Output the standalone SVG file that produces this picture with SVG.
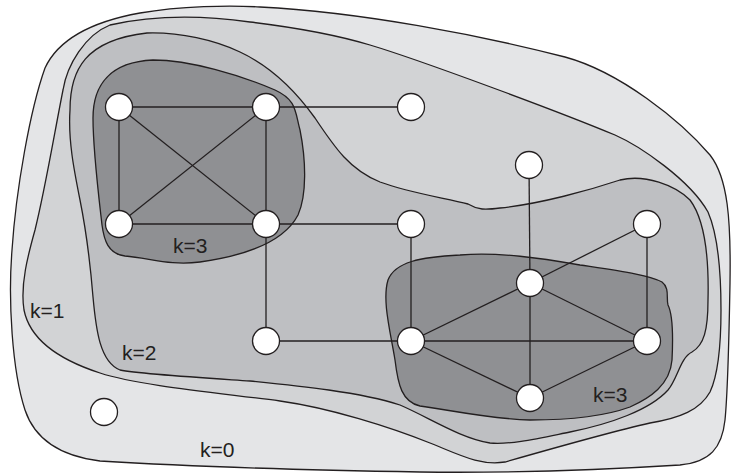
<svg xmlns="http://www.w3.org/2000/svg" width="733" height="474" viewBox="0 0 733 474">
  <style>
    .region { stroke: #231f20; stroke-width: 1.3; stroke-linejoin: round; }
    .k0 { fill: #e4e5e7; }
    .k1 { fill: #d2d3d5; }
    .k2 { fill: #bebfc2; }
    .k3 { fill: #8f9093; }
    .edge { stroke: #231f20; stroke-width: 1.3; fill: none; }
    .node circle { fill: #ffffff; stroke: #231f20; stroke-width: 1.3; }
    .label { font-family: "Liberation Sans", Arial, sans-serif; font-size: 21px; fill: #231f20; }
  </style>
  <rect width="733" height="474" fill="#ffffff"/>

  <!-- nested shells -->
  <g id="shells">
    <path id="shell-k0" class="region k0" d="M 140,13 C 180,6 230,5 260,7 C 360,12 480,35 565,57 C 620,72 680,120 710,155 C 728,178 731,220 730,283 C 729,340 728,390 725,420 C 722,448 710,462 680,465 C 600,470 500,473 420,472 C 300,470 180,466 100,461 C 60,456 35,440 25,410 C 12,370 8,300 12,250 C 16,190 30,110 45,68 C 58,40 90,22 140,13 Z"/>
    <path id="shell-k1" class="region k1" d="M 110,25 C 150,16 200,15 250,22 C 300,28 340,36 370,45 C 420,60 560,112 615,135 C 640,146 690,180 708,212 C 718,235 721,270 721,310 C 721,345 718,375 710,392 C 700,410 680,418 650,423 C 610,432 540,452 505,462 C 480,466 460,455 430,443 C 390,427 330,408 280,401 C 220,393 140,386 100,373 C 60,360 30,340 24,310 C 20,285 28,255 35,230 C 45,190 55,130 63,90 C 67,65 85,35 110,25 Z"/>
    <path id="shell-k2" class="region k2" d="M 147,33 C 180,32 215,40 240,52 C 270,66 295,90 315,118 C 335,148 350,170 380,182 C 410,193 445,198 468,204 C 478,210 485,210 500,208 C 540,204 590,190 620,180 C 645,174 675,185 690,200 C 705,220 709,260 708,300 C 708,330 704,345 692,352 C 680,358 678,378 668,390 C 650,410 610,424 570,432 C 540,438 510,445 490,443 C 460,438 430,418 400,405 C 360,392 300,386 250,381 C 190,377 140,374 120,370 C 100,362 96,330 93,297 C 90,260 86,230 80,200 C 74,170 68,140 70,110 C 70,70 85,40 147,33 Z"/>
    <path id="shell-k3-left" class="region k3" d="M 153,60 C 190,60 240,75 275,90 C 297,100 295,112 300,130 C 306,160 307,195 298,215 C 285,240 250,255 200,262 C 170,266 150,258 125,256 C 108,254 104,240 102,225 C 98,190 93,150 93,118 C 93,85 110,62 153,60 Z"/>
    <path id="shell-k3-right" class="region k3" d="M 460,255 C 500,252 540,258 580,265 C 620,271 650,275 662,282 C 670,288 666,298 668,305 C 673,315 673,340 672,360 C 670,385 650,398 630,407 C 600,418 560,420 530,420 C 490,419 450,410 420,406 C 402,402 398,385 395,360 C 390,330 382,300 388,280 C 395,262 420,257 460,255 Z"/>
  </g>

  <!-- edges -->
  <g id="edges">
    <line class="edge" x1="119" y1="107" x2="266" y2="107"/>
    <line class="edge" x1="119" y1="107" x2="119" y2="224"/>
    <line class="edge" x1="119" y1="107" x2="266" y2="224"/>
    <line class="edge" x1="266" y1="107" x2="119" y2="224"/>
    <line class="edge" x1="266" y1="107" x2="266" y2="224"/>
    <line class="edge" x1="119" y1="224" x2="266" y2="224"/>
    <line class="edge" x1="266" y1="107" x2="411" y2="107"/>
    <line class="edge" x1="266" y1="224" x2="411" y2="224"/>
    <line class="edge" x1="266" y1="224" x2="266" y2="341"/>
    <line class="edge" x1="266" y1="341" x2="411" y2="341"/>
    <line class="edge" x1="411" y1="224" x2="411" y2="341"/>
    <line class="edge" x1="529" y1="165" x2="530" y2="283"/>
    <line class="edge" x1="647" y1="224" x2="530" y2="283"/>
    <line class="edge" x1="647" y1="224" x2="647" y2="341"/>
    <line class="edge" x1="530" y1="283" x2="411" y2="341"/>
    <line class="edge" x1="530" y1="283" x2="647" y2="341"/>
    <line class="edge" x1="530" y1="283" x2="530" y2="398"/>
    <line class="edge" x1="411" y1="341" x2="647" y2="341"/>
    <line class="edge" x1="411" y1="341" x2="530" y2="398"/>
    <line class="edge" x1="647" y1="341" x2="530" y2="398"/>
  </g>

  <!-- vertices -->
  <g id="node-a" class="node"><circle cx="119" cy="107" r="13.5"/></g>
  <g id="node-b" class="node"><circle cx="266" cy="107" r="13.5"/></g>
  <g id="node-c" class="node"><circle cx="411" cy="107" r="13.5"/></g>
  <g id="node-d" class="node"><circle cx="119" cy="224" r="13.5"/></g>
  <g id="node-e" class="node"><circle cx="266" cy="224" r="13.5"/></g>
  <g id="node-f" class="node"><circle cx="411" cy="224" r="13.5"/></g>
  <g id="node-g" class="node"><circle cx="529" cy="165" r="13.5"/></g>
  <g id="node-h" class="node"><circle cx="647" cy="224" r="13.5"/></g>
  <g id="node-i" class="node"><circle cx="530" cy="283" r="13.5"/></g>
  <g id="node-j" class="node"><circle cx="266" cy="341" r="13.5"/></g>
  <g id="node-k" class="node"><circle cx="411" cy="341" r="13.5"/></g>
  <g id="node-l" class="node"><circle cx="647" cy="341" r="13.5"/></g>
  <g id="node-m" class="node"><circle cx="530" cy="398" r="13.5"/></g>
  <g id="node-n" class="node"><circle cx="104" cy="412" r="13.5"/></g>

  <!-- shell labels -->
  <g id="labels">
    <text class="label" x="173" y="253">k=3</text>
    <text class="label" x="593" y="402">k=3</text>
    <text class="label" x="30" y="318">k=1</text>
    <text class="label" x="122" y="360">k=2</text>
    <text class="label" x="200" y="457">k=0</text>
  </g>
</svg>
